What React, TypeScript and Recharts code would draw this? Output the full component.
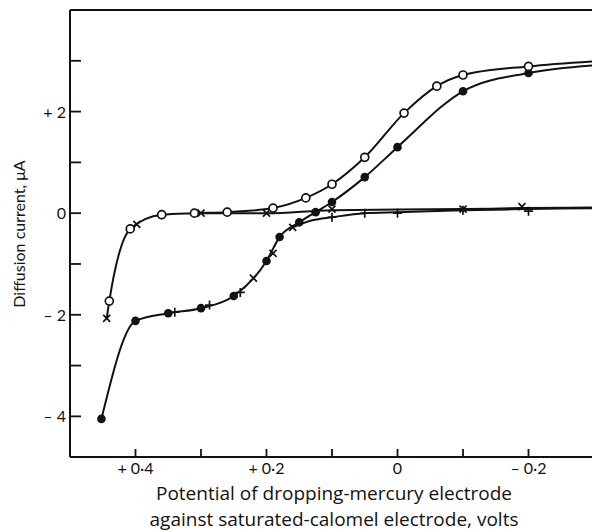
import React from "react";
import {
  ComposedChart,
  Line,
  Scatter,
  XAxis,
  YAxis,
  ReferenceLine,
} from "recharts";

// v = potential (volts vs S.C.E.), i = diffusion current (µA)
const openCircles = [
  { v: 0.44, i: -1.73 }, { v: 0.408, i: -0.31 }, { v: 0.36, i: -0.03 },
  { v: 0.31, i: 0.0 }, { v: 0.26, i: 0.02 }, { v: 0.19, i: 0.1 },
  { v: 0.14, i: 0.3 }, { v: 0.1, i: 0.57 }, { v: 0.05, i: 1.1 },
  { v: -0.01, i: 1.97 }, { v: -0.06, i: 2.5 }, { v: -0.1, i: 2.72 },
  { v: -0.2, i: 2.89 },
];

const filledCircles = [
  { v: 0.452, i: -4.05 }, { v: 0.4, i: -2.12 }, { v: 0.35, i: -1.97 },
  { v: 0.3, i: -1.87 }, { v: 0.25, i: -1.63 }, { v: 0.2, i: -0.94 },
  { v: 0.18, i: -0.47 }, { v: 0.15, i: -0.18 }, { v: 0.125, i: 0.02 },
  { v: 0.1, i: 0.22 }, { v: 0.05, i: 0.71 }, { v: 0.0, i: 1.3 },
  { v: -0.1, i: 2.4 }, { v: -0.2, i: 2.76 },
];

const crosses = [
  { v: 0.444, i: -2.07 }, { v: 0.398, i: -0.22 }, { v: 0.3, i: 0.0 },
  { v: 0.2, i: 0.0 }, { v: 0.22, i: -1.28 }, { v: 0.19, i: -0.79 },
  { v: 0.16, i: -0.28 }, { v: 0.1, i: 0.08 }, { v: -0.1, i: 0.08 },
  { v: -0.19, i: 0.13 },
];

const pluses = [
  { v: 0.34, i: -1.95 }, { v: 0.287, i: -1.81 }, { v: 0.24, i: -1.56 },
  { v: 0.1, i: -0.08 }, { v: 0.05, i: 0.0 }, { v: 0.0, i: 0.0 },
  { v: -0.1, i: 0.06 }, { v: -0.2, i: 0.04 },
];

// drawn curves
const openCurve = [
  { v: 0.444, i: -2.07 }, { v: 0.44, i: -1.73 }, { v: 0.408, i: -0.31 },
  { v: 0.36, i: -0.03 }, { v: 0.31, i: 0.0 }, { v: 0.26, i: 0.02 },
  { v: 0.19, i: 0.1 }, { v: 0.14, i: 0.3 }, { v: 0.1, i: 0.57 },
  { v: 0.05, i: 1.1 }, { v: -0.01, i: 1.97 }, { v: -0.06, i: 2.5 },
  { v: -0.1, i: 2.72 }, { v: -0.2, i: 2.89 }, { v: -0.3, i: 2.99 },
];

const crossCurve = [
  { v: 0.3, i: 0.0 }, { v: 0.2, i: 0.0 }, { v: 0.1, i: 0.06 },
  { v: -0.1, i: 0.08 }, { v: -0.19, i: 0.1 }, { v: -0.3, i: 0.11 },
];

const filledCurve = [
  { v: 0.452, i: -4.05 }, { v: 0.4, i: -2.12 }, { v: 0.35, i: -1.97 },
  { v: 0.3, i: -1.87 }, { v: 0.25, i: -1.63 }, { v: 0.2, i: -0.94 },
  { v: 0.18, i: -0.47 }, { v: 0.15, i: -0.18 }, { v: 0.125, i: 0.02 },
  { v: 0.1, i: 0.22 }, { v: 0.05, i: 0.71 }, { v: 0.0, i: 1.3 },
  { v: -0.1, i: 2.4 }, { v: -0.2, i: 2.76 }, { v: -0.3, i: 2.91 },
];

const plusCurve = [
  { v: 0.16, i: -0.28 }, { v: 0.13, i: -0.14 }, { v: 0.1, i: -0.08 },
  { v: 0.05, i: 0.0 }, { v: 0.0, i: 0.02 }, { v: -0.1, i: 0.06 },
  { v: -0.2, i: 0.08 }, { v: -0.3, i: 0.1 },
];

const xTicks = [0.4, 0.3, 0.2, 0.1, 0, -0.1, -0.2];
const xTickLabels = ["+ 0·4", "", "+ 0·2", "", "0", "", "– 0·2"];
const yTicks = [-4, -3, -2, -1, 0, 1, 2, 3];
const yTickLabels = ["– 4", "", "– 2", "", "0", "", "+ 2", ""];

const INK = "#121212";
const FONT = "Lato, 'Open Sans', sans-serif";
const TITLE_FONT = "'Open Sans', Lato, sans-serif";

function XTick(props: any) {
  const { x, y, index } = props;
  return (
    <g>
      <line x1={x} y1={y} x2={x} y2={y - 8} stroke={INK} strokeWidth={1.8} />
      <text x={x} y={y + 17} textAnchor="middle" fontSize={16} fill={INK} fontFamily={FONT}>
        {xTickLabels[index]}
      </text>
    </g>
  );
}

function YTick(props: any) {
  const { x, y, index } = props;
  return (
    <g>
      <line x1={x} y1={y} x2={x + 11} y2={y} stroke={INK} strokeWidth={1.8} />
      <text x={x - 4} y={y + 6} textAnchor="end" fontSize={16} fill={INK} fontFamily={FONT}>
        {yTickLabels[index]}
      </text>
    </g>
  );
}

const OpenDot = (p: any) => (
  <circle cx={p.cx} cy={p.cy} r={4} fill="#fff" stroke={INK} strokeWidth={1.7} />
);
const FilledDot = (p: any) => <circle cx={p.cx} cy={p.cy} r={4.3} fill={INK} />;
const CrossDot = (p: any) => (
  <path
    d={`M${p.cx - 3.5},${p.cy - 3.5}L${p.cx + 3.5},${p.cy + 3.5}M${p.cx - 3.5},${p.cy + 3.5}L${p.cx + 3.5},${p.cy - 3.5}`}
    stroke={INK}
    strokeWidth={1.7}
  />
);
const PlusDot = (p: any) => (
  <path
    d={`M${p.cx - 4.5},${p.cy}L${p.cx + 4.5},${p.cy}M${p.cx},${p.cy - 4.5}L${p.cx},${p.cy + 4.5}`}
    stroke={INK}
    strokeWidth={1.7}
  />
);

export default function App() {
  return (
    <div
      style={{
        position: "absolute",
        left: 0,
        top: 0,
        width: 592,
        height: 532,
        overflow: "hidden",
        background: "#fff",
        fontFamily: FONT,
        color: INK,
      }}
    >
      <ComposedChart
        width={600}
        height={532}
        margin={{ top: 10, right: 6, left: 10, bottom: 45 }}
      >
        <XAxis
          dataKey="v"
          type="number"
          domain={[-0.3, 0.5]}
          reversed
          ticks={xTicks}
          allowDataOverflow
          height={30}
          tickSize={0}
          tickMargin={0}
          tickLine={false}
          tick={<XTick />}
          axisLine={{ stroke: INK, strokeWidth: 2 }}
          interval={0}
        />
        <YAxis
          dataKey="i"
          type="number"
          domain={[-4.8, 4]}
          ticks={yTicks}
          allowDataOverflow
          width={60}
          tickSize={0}
          tickMargin={0}
          tickLine={false}
          tick={<YTick />}
          axisLine={{ stroke: INK, strokeWidth: 2 }}
          interval={0}
        />
        <ReferenceLine y={4} stroke={INK} strokeWidth={2} />

        <Line data={openCurve} dataKey="i" type="monotone" stroke={INK} strokeWidth={2} dot={false} activeDot={false} isAnimationActive={false} />
        <Line data={crossCurve} dataKey="i" type="monotone" stroke={INK} strokeWidth={2} dot={false} activeDot={false} isAnimationActive={false} />
        <Line data={filledCurve} dataKey="i" type="monotone" stroke={INK} strokeWidth={2} dot={false} activeDot={false} isAnimationActive={false} />
        <Line data={plusCurve} dataKey="i" type="monotone" stroke={INK} strokeWidth={2} dot={false} activeDot={false} isAnimationActive={false} />

        <Scatter data={pluses} dataKey="i" shape={PlusDot} isAnimationActive={false} />
        <Scatter data={crosses} dataKey="i" shape={CrossDot} isAnimationActive={false} />
        <Scatter data={filledCircles} dataKey="i" shape={FilledDot} isAnimationActive={false} />
        <Scatter data={openCircles} dataKey="i" shape={OpenDot} isAnimationActive={false} />
      </ComposedChart>

      <div
        style={{
          position: "absolute",
          left: 18,
          top: 234,
          transform: "translate(-50%, -50%) rotate(-90deg)",
          whiteSpace: "nowrap",
          fontSize: 16,
        }}
      >
        Diffusion current, μA
      </div>
      <div
        style={{
          position: "absolute",
          left: 334,
          top: 480,
          transform: "translateX(-50%)",
          whiteSpace: "nowrap",
          fontFamily: TITLE_FONT,
          fontSize: 19,
          lineHeight: "26px",
          textAlign: "center",
        }}
      >
        Potential of dropping-mercury electrode
        <br />
        against saturated-calomel electrode, volts
      </div>
    </div>
  );
}
